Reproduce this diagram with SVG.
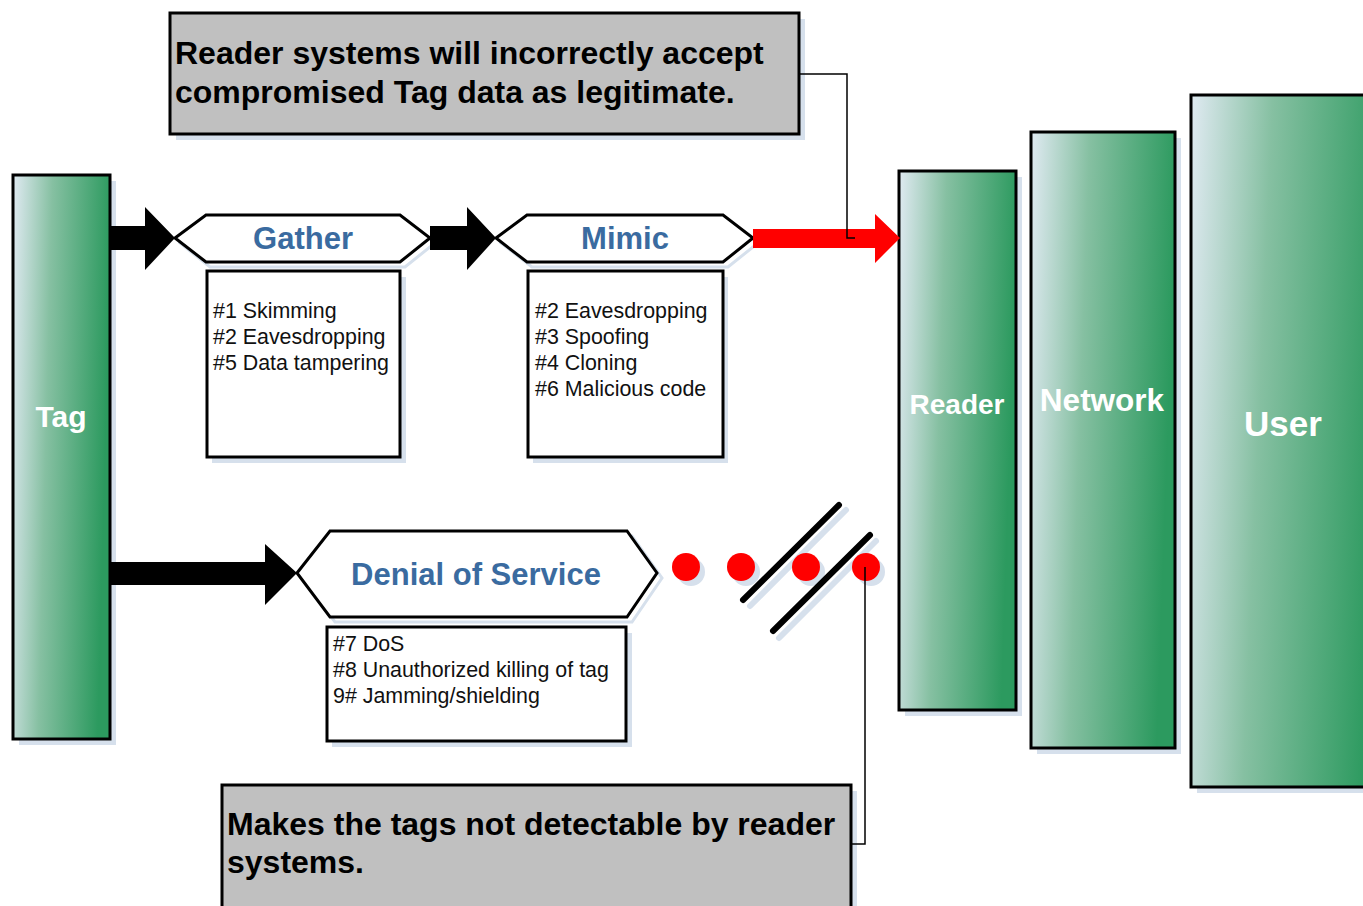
<svg xmlns="http://www.w3.org/2000/svg" width="1363" height="906" viewBox="0 0 1363 906">
<defs>
<linearGradient id="grn" x1="0" y1="0" x2="1" y2="0.15">
<stop offset="0" stop-color="#e0eaf2"/>
<stop offset="0.4" stop-color="#86c0a2"/>
<stop offset="1" stop-color="#2c9a5f"/>
</linearGradient>
<style>
.blk{fill:url(#grn);stroke:#000;stroke-width:3}
.shd{fill:#d6e0ec}
.shl{fill:none;stroke:#d6e0ec;stroke-width:3}
.lbl{font-family:"Liberation Sans",Arial,sans-serif;font-weight:bold;fill:#fff;text-anchor:middle}
.hex{fill:#fff;stroke:#000;stroke-width:3;stroke-linejoin:miter}
.hl{font-family:"Liberation Sans",Arial,sans-serif;font-weight:bold;font-size:31px;fill:#3a6ba0;text-anchor:middle}
.box{fill:#fff;stroke:#000;stroke-width:3}
.bt{font-family:"Liberation Sans",Arial,sans-serif;font-size:21.4px;fill:#111}
.call{fill:#c0c0c0;stroke:#000;stroke-width:3}
.ct{font-family:"Liberation Sans",Arial,sans-serif;font-weight:bold;font-size:32px;fill:#000}
.ln{fill:none;stroke:#000;stroke-width:1.5}
.dot{fill:#ff0000}
.sl{stroke:#000;stroke-width:6;stroke-linecap:round}
.sls{stroke:#d6e0ec;stroke-width:6;stroke-linecap:round}
</style>
</defs>
<rect width="1363" height="906" fill="#fff"/>

<g id="tag">
<rect class="shd" x="19" y="181" width="97" height="564"/>
<rect class="blk" x="13" y="175" width="97" height="564"/>
<text class="lbl" x="61" y="427" font-size="30">Tag</text>
</g>

<g id="reader">
<rect class="shd" x="905" y="177" width="117" height="539"/>
<rect class="blk" x="899" y="171" width="117" height="539"/>
<text class="lbl" x="957" y="414" font-size="28">Reader</text>
</g>

<g id="network">
<rect class="shd" x="1037" y="138" width="144" height="616"/>
<rect class="blk" x="1031" y="132" width="144" height="616"/>
<text class="lbl" x="1102" y="411" font-size="31.5">Network</text>
</g>

<g id="user">
<rect class="shd" x="1197" y="101" width="200" height="692"/>
<rect class="blk" x="1191" y="95" width="200" height="692"/>
<text class="lbl" x="1283" y="436" font-size="35">User</text>
</g>

<g id="gather">
<polygon class="shl" points="180,243 210,219 405,219 435,243 405,267 210,267"/>
<polygon class="hex" points="175,238 206,215 400,215 430,238 400,262 206,262"/>
<text class="hl" x="303" y="249">Gather</text>
</g>

<g id="gather-list">
<rect class="shd" x="212" y="277" width="194" height="186"/>
<rect class="box" x="207" y="271" width="193" height="186"/>
<text class="bt" x="213" y="318">#1 Skimming</text>
<text class="bt" x="213" y="344">#2 Eavesdropping</text>
<text class="bt" x="213" y="370">#5 Data tampering</text>
</g>

<g id="mimic">
<polygon class="shl" points="501,243 532,220 728,220 758,243 728,267 532,267"/>
<polygon class="hex" points="496,238 527,215 723,215 753,238 723,262 527,262"/>
<text class="hl" x="625" y="249">Mimic</text>
</g>

<g id="mimic-list">
<rect class="shd" x="533" y="277" width="195" height="186"/>
<rect class="box" x="528" y="271" width="195" height="186"/>
<text class="bt" x="535" y="318">#2 Eavesdropping</text>
<text class="bt" x="535" y="344">#3 Spoofing</text>
<text class="bt" x="535" y="370">#4 Cloning</text>
<text class="bt" x="535" y="396">#6 Malicious code</text>
</g>

<g id="dos">
<polygon class="shl" points="302,578 335,536 632,536 662,578 632,622 335,622"/>
<polygon class="hex" points="297,573 330,531 627,531 657,573 627,617 330,617"/>
<text class="hl" x="476" y="585">Denial of Service</text>
</g>

<g id="dos-list">
<rect class="shd" x="332" y="633" width="300" height="114"/>
<rect class="box" x="327" y="627" width="299" height="114"/>
<text class="bt" x="333" y="651">#7 DoS</text>
<text class="bt" x="333" y="677">#8 Unauthorized killing of tag</text>
<text class="bt" x="333" y="703">9# Jamming/shielding</text>
</g>

<g id="callout-top">
<rect class="shd" x="176" y="19" width="629" height="121"/>
<rect class="call" x="170" y="13" width="629" height="121"/>
<text class="ct" x="175" y="64">Reader systems will incorrectly accept</text>
<text class="ct" x="175" y="103">compromised Tag data as legitimate.</text>
</g>

<g id="callout-bottom">
<rect class="shd" x="228" y="791" width="629" height="125"/>
<rect class="call" x="222" y="785" width="629" height="125"/>
<text class="ct" x="227" y="835">Makes the tags not detectable by reader</text>
<text class="ct" x="227" y="873">systems.</text>
</g>

<g id="break">
<circle class="shd" cx="691" cy="572" r="14"/>
<circle class="shd" cx="746" cy="572" r="14"/>
<circle class="shd" cx="811" cy="572" r="14"/>
<circle class="shd" cx="871" cy="572" r="14"/>
<line class="sls" x1="750" y1="606" x2="846" y2="510"/>
<line class="sls" x1="779" y1="638" x2="876" y2="541"/>
<circle class="dot" cx="686" cy="567" r="14"/>
<circle class="dot" cx="741" cy="567" r="14"/>
<circle class="dot" cx="806" cy="567" r="14"/>
<circle class="dot" cx="866" cy="567" r="14"/>
<line class="sl" x1="743" y1="600" x2="839" y2="505"/>
<line class="sl" x1="773" y1="631" x2="870" y2="535"/>
</g>

<g id="connectors">
<polygon fill="#000" points="110,226 145,226 145,207 175,238 145,270 145,250 110,250"/>
<polygon fill="#000" points="430,226 467,226 467,207 496,238 467,270 467,250 430,250"/>
<polygon fill="#000" points="110,562 265,562 265,544 297,573 265,605 265,585 110,585"/>
<polygon fill="#ff0000" points="753,229 875,229 875,214 900,238 875,263 875,248 753,248"/>
<polyline class="ln" points="799,74 847,74 847,238 855,238"/>
<polyline class="ln" points="865,567 865,844 851,844"/>
</g>
</svg>
